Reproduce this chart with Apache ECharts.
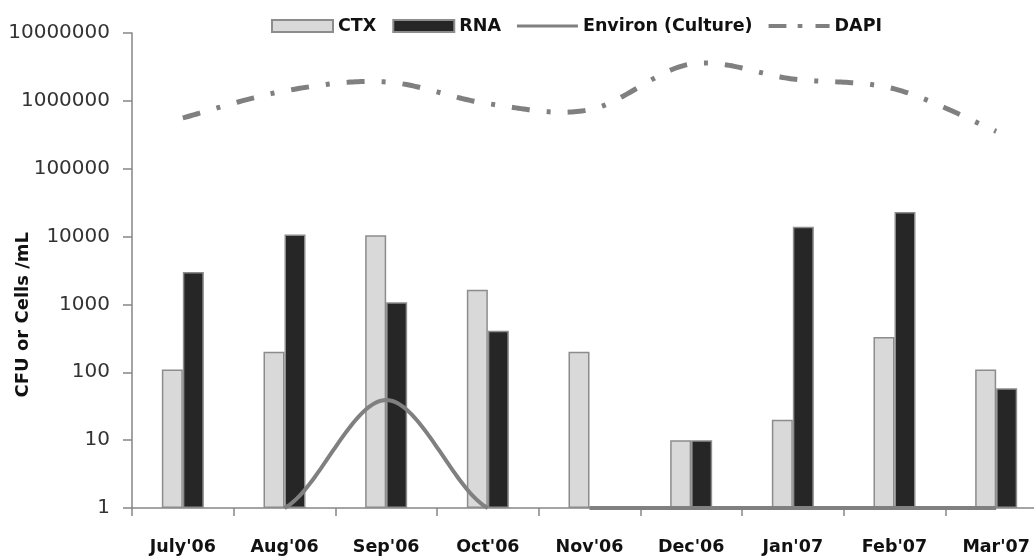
<!DOCTYPE html>
<html>
<head>
<meta charset="utf-8">
<style>
  html, body { margin: 0; padding: 0; background: #fff; }
  #chart { width: 1034px; height: 558px; }
</style>
<script src="https://cdn.jsdelivr.net/npm/echarts@6/dist/echarts.min.js"></script>
</head>
<body>
<div id="chart"></div>
<script>
const categories = ["July'06", "Aug'06", "Sep'06", "Oct'06", "Nov'06", "Dec'06", "Jan'07", "Feb'07", "Mar'07"];
const ctxValues = [110, 200, 10500, 1650, 200, 10, 20, 330, 110];
const rnaValues = [3000, 10700, 1080, 410, null, 10, 14000, 23000, 58];
const environValues = [1, 1, 39, 1, 1, 1, 1, 1, 1];
const dapiValues = [560000, 1400000, 1900000, 910000, 740000, 3500000, 2100000, 1500000, 355000];
const yTicks = [1, 10, 100, 1000, 10000, 100000, 1000000, 10000000];
const yTitle = 'CFU or Cells /mL';

const FONT = 'DejaVu Sans';
const GRAY = '#868686';
const LINE_GRAY = '#808080';

// Excel-like smoothed line (Catmull-Rom through the points), positioned with the chart's own axes.
function smoothRenderer(values, styleOpt) {
  return function (params, api) {
    if (params.dataIndex !== 0) return;
    const baseY = api.coord([0, yTicks[0]])[1];
    const pts = values.map(function (v, i) { return v == null ? null : api.coord([i, v]); });
    const lines = [];
    let cur = [];
    function flush() { if (cur.length > 1) lines.push(cur); cur = []; }
    for (let i = 0; i < pts.length - 1; i++) {
      const p1 = pts[i], p2 = pts[i + 1];
      if (!p1 || !p2) { flush(); continue; }
      const p0 = pts[i - 1] || p1;
      const p3 = pts[i + 2] || p2;
      const c1 = [p1[0] + (p2[0] - p0[0]) / 6, p1[1] + (p2[1] - p0[1]) / 6];
      const c2 = [p2[0] - (p3[0] - p1[0]) / 6, p2[1] - (p3[1] - p1[1]) / 6];
      const N = 40;
      for (let k = 0; k <= N; k++) {
        if (k === 0 && cur.length) continue;
        const t = k / N, mt = 1 - t;
        const x = mt * mt * mt * p1[0] + 3 * mt * mt * t * c1[0] + 3 * mt * t * t * c2[0] + t * t * t * p2[0];
        const y = mt * mt * mt * p1[1] + 3 * mt * mt * t * c1[1] + 3 * mt * t * t * c2[1] + t * t * t * p2[1];
        if (y > baseY + 0.01) { flush(); continue; }
        cur.push([x, y]);
      }
    }
    flush();
    return {
      type: 'group',
      children: lines.map(function (l) {
        return {
          type: 'polyline',
          shape: { points: l },
          style: Object.assign({ fill: null, stroke: LINE_GRAY }, styleOpt)
        };
      })
    };
  };
}

const chart = echarts.init(document.getElementById('chart'), null, { renderer: 'canvas' });
chart.setOption({
  animation: false,
  backgroundColor: '#ffffff',
  textStyle: { fontFamily: FONT },
  grid: { left: 132, top: 33, bottom: 50, width: 915, containLabel: false, outerBoundsMode: 'none' },
  legend: {
    left: 266, top: 12,
    itemWidth: 61, itemHeight: 12, itemGap: 16,
    textStyle: { fontFamily: FONT, fontWeight: 'bold', fontSize: 17.5, color: '#111' },
    data: [
      { name: 'CTX', icon: 'rect' },
      { name: 'RNA', icon: 'rect' },
      { name: 'Environ (Culture)', icon: 'path://M0,0 M0,4.5 L61,4.5 L61,7.5 L0,7.5 Z M61,12',
        itemStyle: { color: LINE_GRAY, borderWidth: 0 } },
      { name: 'DAPI', icon: 'path://M0,0 M0,4 h19 v4 h-19 z M31,4 h5 v4 h-5 z M50,4 h15 v4 h-15 z M65,12',
        itemStyle: { color: LINE_GRAY, borderWidth: 0 } }
    ]
  },
  graphic: [{
    type: 'text',
    left: 14, top: 315 - 83,
    rotation: Math.PI / 2,
    style: {
      text: yTitle,
      font: 'bold 18px "DejaVu Sans"',
      fill: '#111'
    }
  }],
  xAxis: {
    type: 'category',
    data: categories,
    boundaryGap: true,
    axisLine: { lineStyle: { color: GRAY, width: 1.5 } },
    axisTick: { show: true, length: 8, lineStyle: { color: GRAY, width: 1.5 } },
    axisLabel: { margin: 30, fontFamily: FONT, fontWeight: 'bold', fontSize: 17.5, color: '#111' },
    splitLine: { show: false }
  },
  yAxis: {
    type: 'log',
    logBase: 10,
    min: yTicks[0],
    max: yTicks[yTicks.length - 1],
    axisLine: { show: true, lineStyle: { color: GRAY, width: 1.5 } },
    axisTick: { show: true, length: 9, lineStyle: { color: GRAY, width: 1.5 } },
    axisLabel: {
      margin: 22, fontFamily: FONT, fontSize: 20, color: '#333',
      formatter: function (v) { return String(Math.round(v)); }
    },
    splitLine: { show: false }
  },
  series: [
    {
      name: 'CTX', type: 'bar', data: ctxValues,
      barWidth: 21, barGap: '0%',
      itemStyle: { color: '#d9d9d9', borderColor: '#8c8c8c', borderWidth: 1.5 }
    },
    {
      name: 'RNA', type: 'bar', data: rnaValues,
      barWidth: 21, barGap: '0%',
      itemStyle: { color: '#262626', borderColor: '#8c8c8c', borderWidth: 1.5 }
    },
    {
      name: 'Environ (Culture)', type: 'custom', coordinateSystem: 'cartesian2d',
      data: [[0, environValues[0]]],
      itemStyle: { color: LINE_GRAY },
      renderItem: smoothRenderer(environValues, { lineWidth: 4 }),
      z: 3, silent: true
    },
    {
      name: 'DAPI', type: 'custom', coordinateSystem: 'cartesian2d',
      data: [[0, dapiValues[0]]],
      itemStyle: { color: LINE_GRAY },
      renderItem: smoothRenderer(dapiValues, { lineWidth: 5, lineDash: [18, 17, 4, 17], lineCap: 'butt' }),
      z: 3, silent: true
    }
  ]
});
</script>
</body>
</html>
